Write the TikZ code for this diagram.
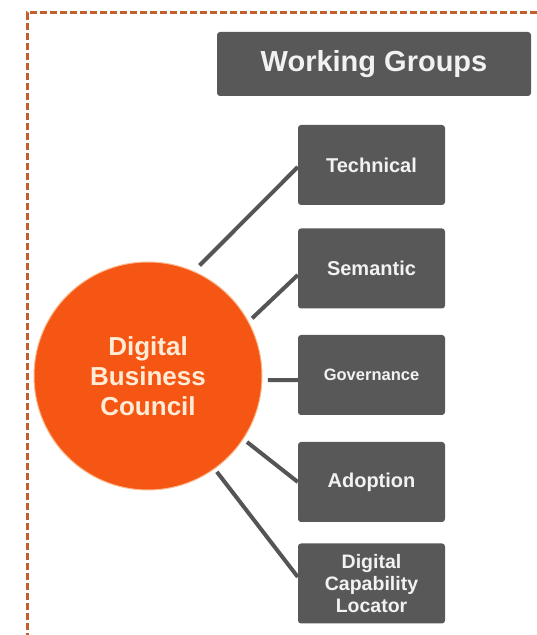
\documentclass[tikz,border=0pt]{standalone}
\usepackage{fontspec}
\setmainfont{Liberation Sans}
\usetikzlibrary{calc}
\definecolor{boxgray}{RGB}{88,88,88}
\definecolor{linegray}{RGB}{85,85,85}
\definecolor{orangefill}{RGB}{245,86,20}
\definecolor{halo}{RGB}{250,185,140}
\definecolor{bordercol}{RGB}{195,95,45}
\definecolor{boxtext}{RGB}{242,242,242}
\definecolor{creamtext}{RGB}{255,236,214}
\begin{document}
\begin{tikzpicture}[x=1pt,y=1pt,
  wgbox/.style={draw=none, fill=boxgray, rounded corners=3pt, minimum width=314pt, minimum height=64pt, text=boxtext, font=\fontsize{29}{33}\selectfont\bfseries, inner sep=0pt},
  grpbox/.style={draw=none, fill=boxgray, rounded corners=3pt, minimum width=147pt, minimum height=80pt, text=boxtext, font=\fontsize{20}{22}\selectfont\bfseries, align=center, inner sep=0pt},
  council/.style={circle, fill=orangefill, draw=halo, line width=1pt, minimum size=228pt, inner sep=0pt, text=creamtext, font=\fontsize{26}{30}\selectfont\bfseries, align=center},
  conn/.style={draw=linegray, line width=4pt},
  border/.style={draw=bordercol, line width=3pt, dash pattern=on 7pt off 3pt}
]
\useasboundingbox (0,0) rectangle (536,635);
\fill[white] (0,0) rectangle (536,635);
\draw[border] (27,-5) -- (27,622) -- (545,622);

\node[wgbox] (wg) at (374,571) {Working Groups};

\node[council] (c) at (148,259) {Digital\\Business\\Council};

\node[grpbox] (tech) at (371.5,470) {Technical};
\node[grpbox] (sem) at (371.5,366.5) {Semantic};
\node[grpbox, font=\fontsize{16.5}{20}\selectfont\bfseries] (gov) at (371.5,260) {Governance};
\node[grpbox] (ado) at (371.5,153) {Adoption};
\node[grpbox, font=\fontsize{19.5}{22}\selectfont\bfseries] (dcl) at (371.5,51.5) {Digital\\Capability\\Locator};

\draw[conn] ($(c.center)+(65:122)$) -- ([yshift=-2pt]tech.west);
\draw[conn] ($(c.center)+(29:119)$) -- ([yshift=-6.5pt]sem.west);
\draw[conn] ($(c.center)+(-2:120)$) -- ([yshift=-5pt]gov.west);
\draw[conn] ($(c.center)+(-33.7:119)$) -- (ado.west);
\draw[conn] ($(c.center)+(-54.3:118)$) -- ([yshift=6.5pt]dcl.west);
\end{tikzpicture}
\end{document}
